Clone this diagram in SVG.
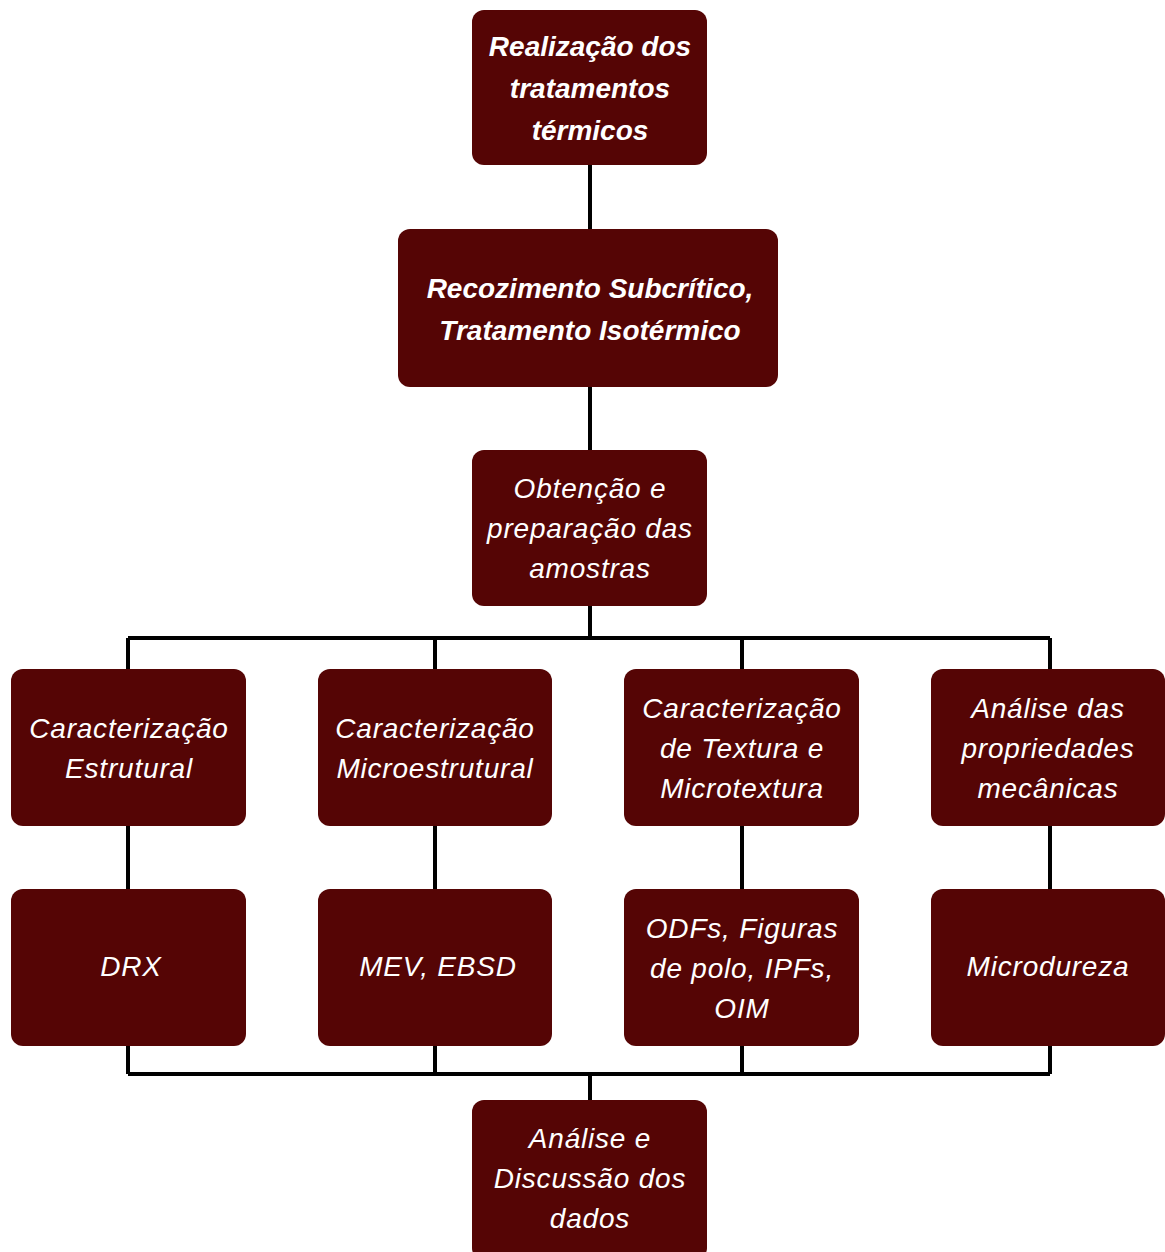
<svg xmlns="http://www.w3.org/2000/svg" width="1165" height="1252" viewBox="0 0 1165 1252">
<style>
.box{fill:#550505;}
.t{font-family:"Liberation Sans",Arial,sans-serif;font-style:italic;fill:#ffffff;text-anchor:middle;font-size:28px;}
.b{font-weight:bold;}
.s{letter-spacing:0.8px;font-size:28px;}
.c{stroke:#000;stroke-width:4;fill:none;}
</style>
<rect width="1165" height="1252" fill="#ffffff"/>
<g id="connectors">
<path class="c" d="M590 165V229M590 387V450M590 606V638M128 638H1050M128 638V669M435 638V669M742 638V669M1050 638V669M128 826V889M435 826V889M742 826V889M1050 826V889M128 1046V1074M435 1046V1074M742 1046V1074M1050 1046V1074M128 1074H1050M590 1074V1100"/>
</g>
<g id="n1"><rect class="box" x="472" y="10" width="235" height="155" rx="12"/>
<text class="t b" x="590" y="56">Realização dos</text><text class="t b" x="590" y="98">tratamentos</text><text class="t b" x="590" y="140">térmicos</text></g>
<g id="n2"><rect class="box" x="398" y="229" width="380" height="158" rx="12"/>
<text class="t b" x="590" y="298">Recozimento Subcrítico,</text><text class="t b" x="590" y="340">Tratamento Isotérmico</text></g>
<g id="n3"><rect class="box" x="472" y="450" width="235" height="156" rx="12"/>
<text class="t s" x="590" y="498">Obtenção e</text><text class="t s" x="590" y="538">preparação das</text><text class="t s" x="590" y="578">amostras</text></g>
<g id="n4"><rect class="box" x="11" y="669" width="235" height="157" rx="12"/>
<text class="t s" x="129" y="738">Caracterização</text><text class="t s" x="129" y="778">Estrutural</text></g>
<g id="n5"><rect class="box" x="318" y="669" width="234" height="157" rx="12"/>
<text class="t s" x="435" y="738">Caracterização</text><text class="t s" x="435" y="778">Microestrutural</text></g>
<g id="n6"><rect class="box" x="624" y="669" width="235" height="157" rx="12"/>
<text class="t s" x="742" y="718">Caracterização</text><text class="t s" x="742" y="758">de Textura e</text><text class="t s" x="742" y="798">Microtextura</text></g>
<g id="n7"><rect class="box" x="931" y="669" width="234" height="157" rx="12"/>
<text class="t s" x="1048" y="718">Análise das</text><text class="t s" x="1048" y="758">propriedades</text><text class="t s" x="1048" y="798">mecânicas</text></g>
<g id="n8"><rect class="box" x="11" y="889" width="235" height="157" rx="12"/>
<text class="t s" x="131" y="976">DRX</text></g>
<g id="n9"><rect class="box" x="318" y="889" width="234" height="157" rx="12"/>
<text class="t s" x="438" y="976">MEV, EBSD</text></g>
<g id="n10"><rect class="box" x="624" y="889" width="235" height="157" rx="12"/>
<text class="t s" x="742" y="938">ODFs, Figuras</text><text class="t s" x="742" y="978">de polo, IPFs,</text><text class="t s" x="742" y="1018">OIM</text></g>
<g id="n11"><rect class="box" x="931" y="889" width="234" height="157" rx="12"/>
<text class="t s" x="1048" y="976">Microdureza</text></g>
<g id="n12"><rect class="box" x="472" y="1100" width="235" height="160" rx="12"/>
<text class="t s" x="590" y="1148">Análise e</text><text class="t s" x="590" y="1188">Discussão dos</text><text class="t s" x="590" y="1228">dados</text></g>
</svg>
